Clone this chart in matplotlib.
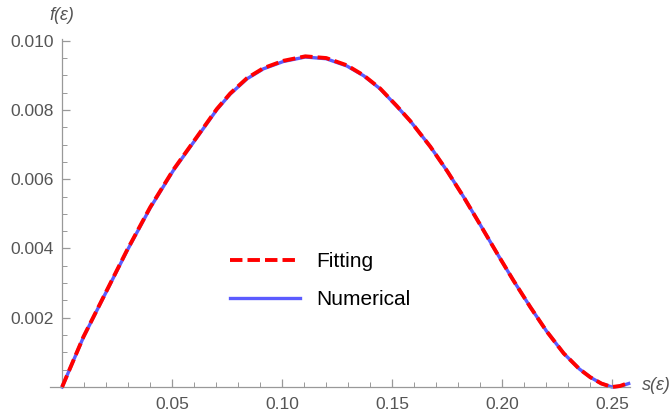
import matplotlib.pyplot as plt
from matplotlib.ticker import FormatStrFormatter

plt.rcParams["font.family"] = ["Liberation Sans", "DejaVu Sans"]

# values
s_vals = [0.0, 0.0097, 0.0188, 0.0294, 0.04, 0.0506, 0.0612, 0.0703, 0.0764,
          0.084, 0.0915, 0.1005, 0.1105, 0.12, 0.1294, 0.137, 0.1445, 0.152,
          0.1582, 0.1673, 0.175, 0.1824, 0.19, 0.1976, 0.205, 0.2127, 0.22,
          0.2279, 0.235, 0.24, 0.245, 0.2498, 0.2535, 0.2574]
f_numerical = [0.0, 0.00144, 0.00259, 0.00392, 0.00517, 0.00626, 0.00720,
               0.00801, 0.00846, 0.00890, 0.00919, 0.00940, 0.00953, 0.00948,
               0.00927, 0.00899, 0.00861, 0.00811, 0.00768, 0.00694, 0.00623,
               0.00549, 0.00468, 0.00386, 0.00308, 0.00231, 0.00162, 0.00097,
               0.00052, 0.00028, 0.00010, 0.0, 0.00002, 0.00010]
f_fitting = [0.0, 0.00145, 0.00260, 0.00394, 0.00519, 0.00628, 0.00722,
             0.00803, 0.00848, 0.00892, 0.00921, 0.00942, 0.00955, 0.00950,
             0.00929, 0.00900, 0.00862, 0.00812, 0.00768, 0.00694, 0.00623,
             0.00549, 0.00468, 0.00386, 0.00308, 0.00231, 0.00162, 0.00097,
             0.00052, 0.00028, 0.00010, 0.0, 0.00003, 0.00012]

x_major = [0.05, 0.10, 0.15, 0.20, 0.25]
x_minor = [0.01 * i for i in range(1, 26)]
y_major = [0.002, 0.004, 0.006, 0.008, 0.010]
y_minor = [0.0005 * i for i in range(1, 21)]

fig = plt.figure(figsize=(6.7, 4.16), dpi=100)
ax = fig.add_axes([50 / 670, 29 / 416, 580 / 670, 348 / 416])

ax.plot(s_vals, f_numerical, color="#5B5BFF", lw=2.4, label="Numerical",
        zorder=2, clip_on=False)
ax.plot(s_vals, f_fitting, color="#FF0000", lw=2.8, ls=(0, (3.2, 1.3)),
        label="Fitting", zorder=3, clip_on=False)

ax.set_xticks(x_major)
ax.set_xticks(x_minor, minor=True)
ax.set_yticks(y_major)
ax.set_yticks(y_minor, minor=True)
ax.xaxis.set_major_formatter(FormatStrFormatter("%.2f"))
ax.yaxis.set_major_formatter(FormatStrFormatter("%.3f"))
ax.set_xlim(-0.0055, 0.258)
ax.set_ylim(0, 0.01005)

for side in ["top", "right"]:
    ax.spines[side].set_visible(False)
ax.spines["left"].set_position(("data", 0))
for side in ["left", "bottom"]:
    ax.spines[side].set_color("#999999")
    ax.spines[side].set_linewidth(0.9)

ax.tick_params(which="both", direction="in", color="#999999",
               labelcolor="#555555", labelsize=12.5)
ax.tick_params(which="major", length=6, width=0.9)
ax.tick_params(which="minor", length=3.5, width=0.7)
ax.tick_params(axis="x", which="both", pad=7)
ax.tick_params(axis="y", which="both", pad=6)

fig.text(62 / 670, 1 - 15 / 416, "f(ε)", style="italic", color="#555555",
         fontsize=13, ha="center", va="center")
fig.text(642 / 670, 1 - 385 / 416, "s(ε)", style="italic", color="#555555",
         fontsize=13, ha="left", va="center")

handles, labels = ax.get_legend_handles_labels()
ax.legend(handles[::-1], labels[::-1], loc="center left",
          bbox_to_anchor=(0.293, 0.306), frameon=False, fontsize=15,
          borderpad=0, handlelength=3.36, labelspacing=0.91,
          handletextpad=0.77)

fig.savefig("out.png", dpi=100)
